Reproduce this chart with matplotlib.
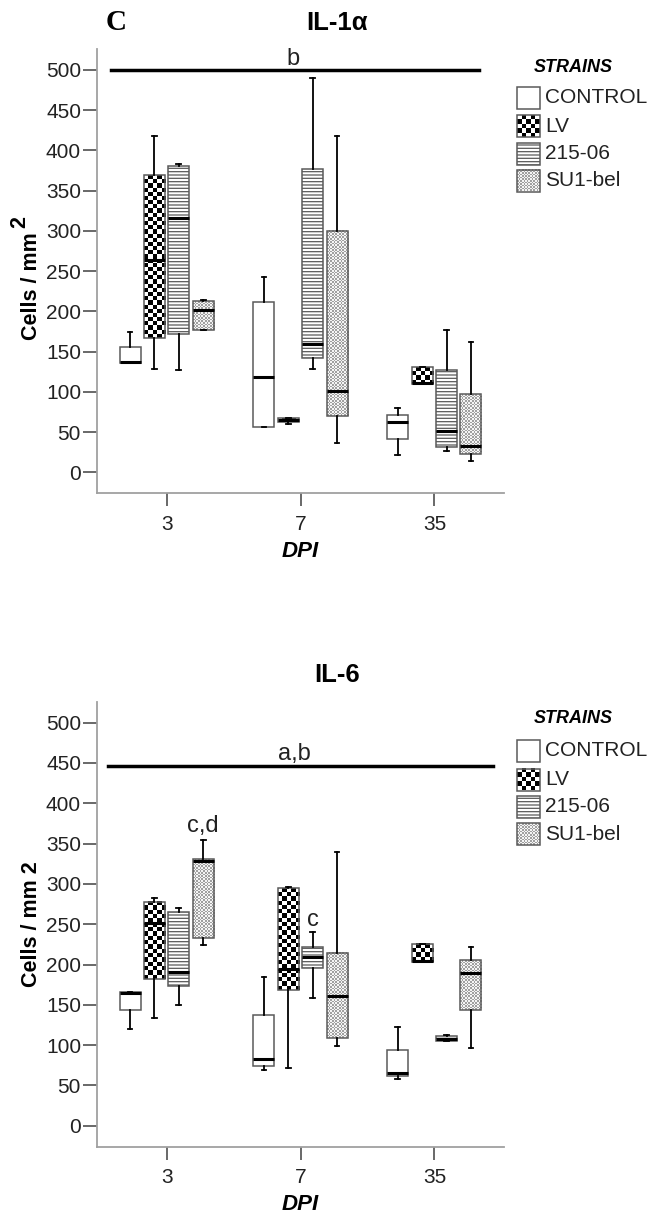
import numpy as np
import matplotlib
matplotlib.use("Agg")
import matplotlib.pyplot as plt
from matplotlib.colors import ListedColormap
from matplotlib.patches import Rectangle

plt.rcParams['font.family'] = ['Liberation Sans', 'DejaVu Sans']
plt.rcParams['hatch.linewidth'] = 0.9

days = ["3", "7", "35"]
strains = ["CONTROL", "LV", "215-06", "SU1-bel"]

# box stats per strain (rows) and day (cols): whisker low, Q1, median, Q3, whisker high
il1a_lo = [[136, 56, 21], [128, 60, 110], [127, 128, 27], [176.5, 36, 14]]
il1a_q1 = [[136.4, 56, 42], [167.5, 63, 110], [171.5, 142.5, 31.5], [176.5, 70, 23]]
il1a_med = [[137.5, 118.5, 62], [264, 65, 111], [315.5, 160, 52], [201.5, 101, 33]]
il1a_q3 = [[156, 212, 71], [369, 67.5, 131], [381, 376.5, 127], [212.5, 300, 97]]
il1a_hi = [[174.5, 243, 80], [418, 67.5, 131], [383, 490, 177.5], [214, 417.5, 162]]

il6_lo = [[120, 69.5, 58], [134, 71.5, 202.5], [149.5, 159, 105], [224.5, 99, 97]]
il6_q1 = [[143, 73.5, 62], [182, 168, 202.5], [173.5, 196, 105], [233.5, 108.5, 143.5]]
il6_med = [[164.5, 83, 66], [251, 195, 204], [191, 209, 107], [329, 161.5, 189.5]]
il6_q3 = [[166.5, 137, 94], [278, 294.5, 225.5], [265, 222, 111.5], [331, 214, 205.5]]
il6_hi = [[166.5, 185, 123], [282, 296, 225.5], [270.5, 240, 112.5], [354.5, 340, 222]]

# significance annotations
il1a_sig_y = 500
il1a_sig_x = [-0.416, 2.333]
il6_sig_y = 446
il6_sig_x = [-0.44, 2.44]

offsets = [-0.273, -0.091, 0.091, 0.273]
box_w = 0.157

fig = plt.figure(figsize=(6.48, 12.16), dpi=100)
W, H = 648, 1216


def texture(ax, x0, x1, y0, y1, cell, colors, z=0.5):
    p0 = ax.transData.transform((x0, y0))
    p1 = ax.transData.transform((x1, y1))
    nx = max(1, int(round(abs(p1[0] - p0[0]) / cell)))
    ny = max(1, int(round(abs(p1[1] - p0[1]) / cell)))
    grid = np.indices((ny, nx)).sum(0) % 2
    ax.imshow(grid, extent=(x0, x1, y0, y1), cmap=ListedColormap(colors),
              interpolation='nearest', aspect='auto', zorder=z)


def panel(rect, lo, q1, med, q3, hi, title, ylabel, ylabel_y):
    ax = fig.add_axes(rect)
    ax.set_xlim(-0.52, 2.52)
    ax.set_ylim(-26, 526)
    pos = np.arange(len(days))
    for i, s in enumerate(strains):
        stats = []
        for d in range(len(days)):
            stats.append(dict(whislo=lo[i][d], q1=q1[i][d], med=med[i][d],
                              q3=q3[i][d], whishi=hi[i][d], fliers=[]))
        face = 'white'
        hatch = None
        if s == "LV" or s == "SU1-bel":
            face = 'none'
        if s == "215-06":
            hatch = '-----'
        ax.bxp(stats, positions=pos + offsets[i], widths=box_w,
               patch_artist=True, showfliers=False, manage_ticks=False,
               capwidths=0.035,
               boxprops=dict(facecolor=face, edgecolor='#5a5a5a', linewidth=1.1, hatch=hatch),
               medianprops=dict(color='black', linewidth=2.2),
               whiskerprops=dict(color='black', linewidth=1.3),
               capprops=dict(color='black', linewidth=1.3))
        if s == "LV":
            for d in range(len(days)):
                texture(ax, pos[d] + offsets[i] - box_w / 2, pos[d] + offsets[i] + box_w / 2,
                        q1[i][d], q3[i][d], 4.2, ['white', 'black'])
        if s == "SU1-bel":
            for d in range(len(days)):
                texture(ax, pos[d] + offsets[i] - box_w / 2, pos[d] + offsets[i] + box_w / 2,
                        q1[i][d], q3[i][d], 1.6, ['#f4f4f4', '#a0a0a0'])
    ax.set_xlim(-0.52, 2.52)
    ax.set_ylim(-26, 526)
    ax.set_xticks(pos)
    ax.set_xticklabels(days)
    ax.set_yticks(np.arange(0, 501, 50))
    for sp in ['top', 'right']:
        ax.spines[sp].set_visible(False)
    for sp in ['left', 'bottom']:
        ax.spines[sp].set_color('#a0a0a0')
        ax.spines[sp].set_linewidth(1.3)
    ax.tick_params(axis='y', length=10, width=1.1, color='#404040', pad=1.5,
                   labelsize=15, labelcolor='#222222')
    ax.tick_params(axis='x', length=9.5, width=1.1, color='#404040', pad=6,
                   labelsize=15, labelcolor='#222222')
    ax.set_ylabel(ylabel, fontsize=15.5, fontweight='bold')
    ax.yaxis.set_label_coords(-0.135, ylabel_y)
    ax.set_xlabel("DPI", fontsize=16, fontweight='bold', style='italic')
    ax.xaxis.set_label_coords(0.5, -0.107)
    ax.set_title(title, fontsize=18.5, fontweight='bold', x=0.59, pad=14)
    return ax


ax1 = panel([97 / W, 1 - 493.3 / H, 407 / W, 444.3 / H],
            il1a_lo, il1a_q1, il1a_med, il1a_q3, il1a_hi,
            "IL-1α", "Cells / mm", 0.467)
ax1.plot(il1a_sig_x, [il1a_sig_y, il1a_sig_y], color='black', linewidth=2.5, zorder=3)
ax1.text(0.943, 506, "b", fontsize=17, ha='center', va='baseline', color='#222222')

ax2 = panel([97 / W, 1 - 1146.7 / H, 407 / W, 445 / H],
            il6_lo, il6_q1, il6_med, il6_q3, il6_hi,
            "IL-6", "Cells / mm 2", 0.5)
ax2.plot(il6_sig_x, [il6_sig_y, il6_sig_y], color='black', linewidth=2.5, zorder=3)
ax2.text(0.957, 454, "a,b", fontsize=17, ha='center', va='baseline', color='#222222')
ax2.text(0 + offsets[3], 364, "c,d", fontsize=17, ha='center', va='baseline', color='#222222')
ax2.text(1 + offsets[2], 248, "c", fontsize=17, ha='center', va='baseline', color='#222222')

# overlay in pixel coordinates for panel letter, superscript and legends
ov = fig.add_axes([0, 0, 1, 1])
ov.set_xlim(0, W)
ov.set_ylim(H, 0)
ov.axis('off')
ov.text(116, 23, "C", fontsize=21, fontweight='bold', family='Liberation Serif',
        ha='center', va='center')
ov.text(20, 222, "2", fontsize=15.5, fontweight='bold', rotation=90,
        ha='center', va='center')

row_y = [97.5, 126, 153.5, 180.5]
for top in [67, 718.5]:
    shift = top - 67
    ov.text(573, top, "STRAINS", fontsize=13, fontweight='bold', style='italic',
            ha='center', va='center')
    for i, s in enumerate(strains):
        y = row_y[i] + shift + (2 if top > 100 else 0)
        x0, x1 = 517, 540
        y0, y1 = y - 11, y + 11
        face = 'white'
        hatch = None
        if s == "215-06":
            hatch = '-----'
        if s in ("LV", "SU1-bel"):
            face = 'none'
        if s == "LV":
            texture(ov, x0, x1, y1, y0, 4.4, ['white', 'black'])
        if s == "SU1-bel":
            texture(ov, x0, x1, y1, y0, 1.6, ['#f4f4f4', '#a0a0a0'])
        ov.add_patch(Rectangle((x0, y0), x1 - x0, y1 - y0, facecolor=face,
                               edgecolor='#5a5a5a', linewidth=1.1, hatch=hatch, zorder=2))
        ov.text(545, y, s, fontsize=15, ha='left', va='center', color='#222222')
ov.set_xlim(0, W)
ov.set_ylim(H, 0)

fig.savefig("out.png", dpi=100)
